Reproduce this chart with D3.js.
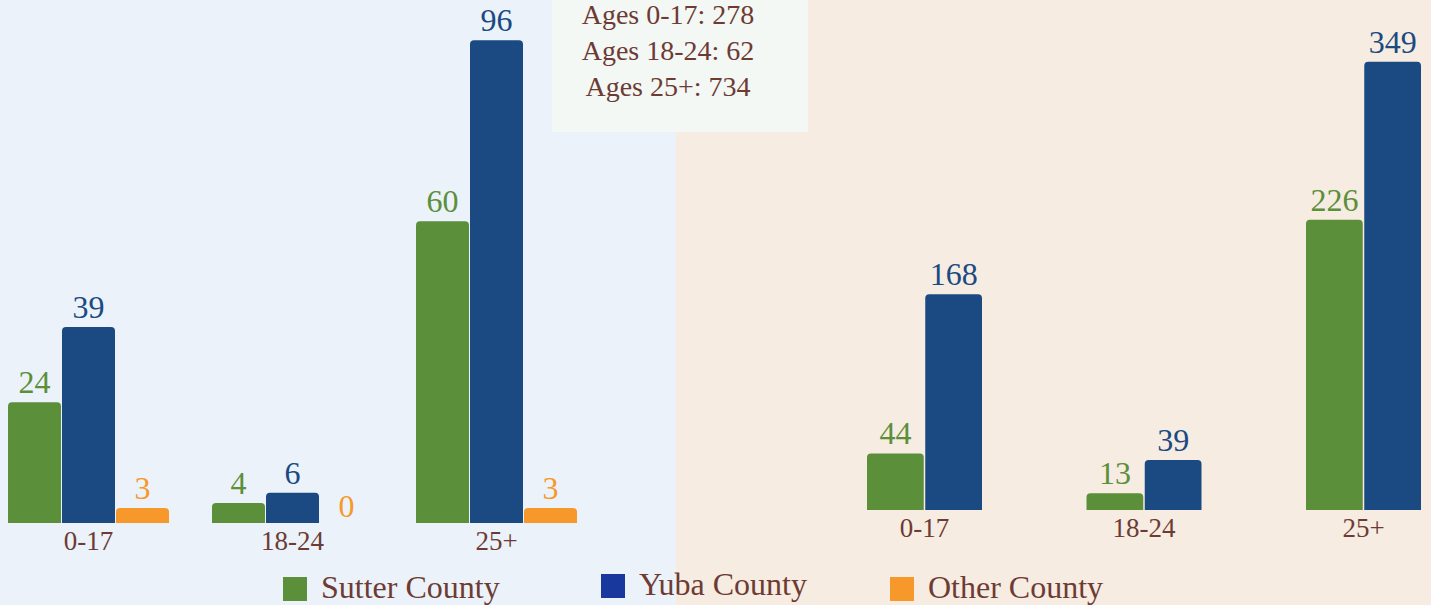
<!DOCTYPE html>
<html>
<head>
<meta charset="utf-8">
<script src="https://cdn.jsdelivr.net/npm/d3@7"></script>
<style>
  body { margin: 0; overflow: hidden; background: #ffffff; }
  text { font-family: "Liberation Serif", "DejaVu Serif", serif; }
</style>
</head>
<body>
<div id="my_dataviz"></div>
<script>
// data
const categories = ["0-17", "18-24", "25+"];
const seriesNames = ["Sutter County", "Yuba County", "Other County"];

// left panel
const leftSutter = [24, 4, 60];
const leftYuba = [39, 6, 96];
const leftOther = [3, 0, 3];

// right panel (no Other County bars)
const rightSutter = [44, 13, 226];
const rightYuba = [168, 39, 349];

const colors = {
  "Sutter County": "#5b8f3a",
  "Yuba County": "#1b4a82",
  "Other County": "#f7982a"
};
const legendColors = {
  "Sutter County": "#5b8f3a",
  "Yuba County": "#18389e",
  "Other County": "#f7982a"
};
const textBrown = "#6d3b34";

let width = 1431;
let height = 605;

var svg = d3
  .select("#my_dataviz")
  .append("svg")
  .attr("width", width)
  .attr("height", height);

// panel backgrounds
svg.append("rect").attr("x", 0).attr("y", 0).attr("width", 676).attr("height", height).attr("fill", "#ebf2f9");
svg.append("rect").attr("x", 676).attr("y", 0).attr("width", width - 676).attr("height", height).attr("fill", "#f6ece2");

// path for a bar with rounded top corners
function roundedTop(x, y, w, h, r) {
  r = Math.max(0, Math.min(r, h, w / 2));
  return "M" + x + "," + (y + h) +
    "V" + (y + r) +
    "Q" + x + "," + y + " " + (x + r) + "," + y +
    "H" + (x + w - r) +
    "Q" + (x + w) + "," + y + " " + (x + w) + "," + (y + r) +
    "V" + (y + h) + "Z";
}

/**
 * @description Draw one grouped bar panel
 * @param series array of {name, values}
 * @param xRange range of the outer band scale
 * @param groupPad inner padding of the outer band scale
 * @param barPad inner padding of the series band scale
 * @param yDomainMax top of the value scale
 * @param baseline y pixel of value 0
 */
function drawPanel(series, xRange, groupPad, barPad, yDomainMax, baseline) {
  let x0 = d3.scaleBand().domain(categories).range(xRange).paddingInner(groupPad).paddingOuter(0);
  let x1 = d3.scaleBand().domain(series.map(s => s.name)).range([0, x0.bandwidth()]).paddingInner(barPad);
  let y = d3.scaleLinear().domain([0, yDomainMax]).range([baseline, 0]);

  let g = svg.append("g");

  let groups = g.selectAll(".group")
    .data(categories)
    .enter()
    .append("g")
    .attr("transform", d => "translate(" + x0(d) + ",0)");

  groups.each(function(cat, ci) {
    let grp = d3.select(this);
    series.forEach(function(s) {
      let v = s.values[ci];
      let bx = x1(s.name);
      let by = y(v);
      if (v > 0) {
        grp.append("path")
          .attr("d", roundedTop(bx, by, x1.bandwidth(), baseline - by, 4))
          .attr("fill", colors[s.name]);
      }
      grp.append("text")
        .attr("x", bx + x1.bandwidth() / 2)
        .attr("y", v > 0 ? by - 9 : by - 6)
        .attr("text-anchor", "middle")
        .style("font-size", "32px")
        .style("fill", colors[s.name])
        .text(v);
    });
  });

  // category axis labels
  g.selectAll(".cat")
    .data(categories)
    .enter()
    .append("text")
    .attr("x", d => x0(d) + x0.bandwidth() / 2)
    .attr("y", baseline + 27)
    .attr("text-anchor", "middle")
    .style("font-size", "27px")
    .style("fill", textBrown)
    .text(d => d);
}

drawPanel(
  [
    { name: "Sutter County", values: leftSutter },
    { name: "Yuba County", values: leftYuba },
    { name: "Other County", values: leftOther }
  ],
  [8, 577], 43 / 204, 1 / 54, 104, 523
);

drawPanel(
  [
    { name: "Sutter County", values: rightSutter },
    { name: "Yuba County", values: rightYuba }
  ],
  [867, 1421], 104.5 / 219.5, 1.5 / 58.25, 397, 510
);

// tooltip box with totals per age group
let totals = categories.map((c, i) =>
  leftSutter[i] + leftYuba[i] + leftOther[i] + rightSutter[i] + rightYuba[i]);

svg.append("rect")
  .attr("x", 552).attr("y", 0)
  .attr("width", 256).attr("height", 132)
  .attr("fill", "#f3f8f4");

svg.selectAll(".tip")
  .data(categories)
  .enter()
  .append("text")
  .attr("x", 668)
  .attr("y", (d, i) => 24 + i * 36)
  .attr("text-anchor", "middle")
  .style("font-size", "28px")
  .style("fill", textBrown)
  .text((d, i) => "Ages " + d + ": " + totals[i]);

// legend
const legendX = [283, 601, 890];
const legendY = [577, 574, 577];
let legend = svg.selectAll(".legend")
  .data(seriesNames)
  .enter()
  .append("g")
  .attr("transform", (d, i) => "translate(" + legendX[i] + "," + legendY[i] + ")");

legend.append("rect")
  .attr("width", 24).attr("height", 24)
  .attr("fill", d => legendColors[d]);

legend.append("text")
  .attr("x", 38)
  .attr("y", 21)
  .style("font-size", "32px")
  .style("fill", textBrown)
  .text(d => d);
</script>
</body>
</html>
